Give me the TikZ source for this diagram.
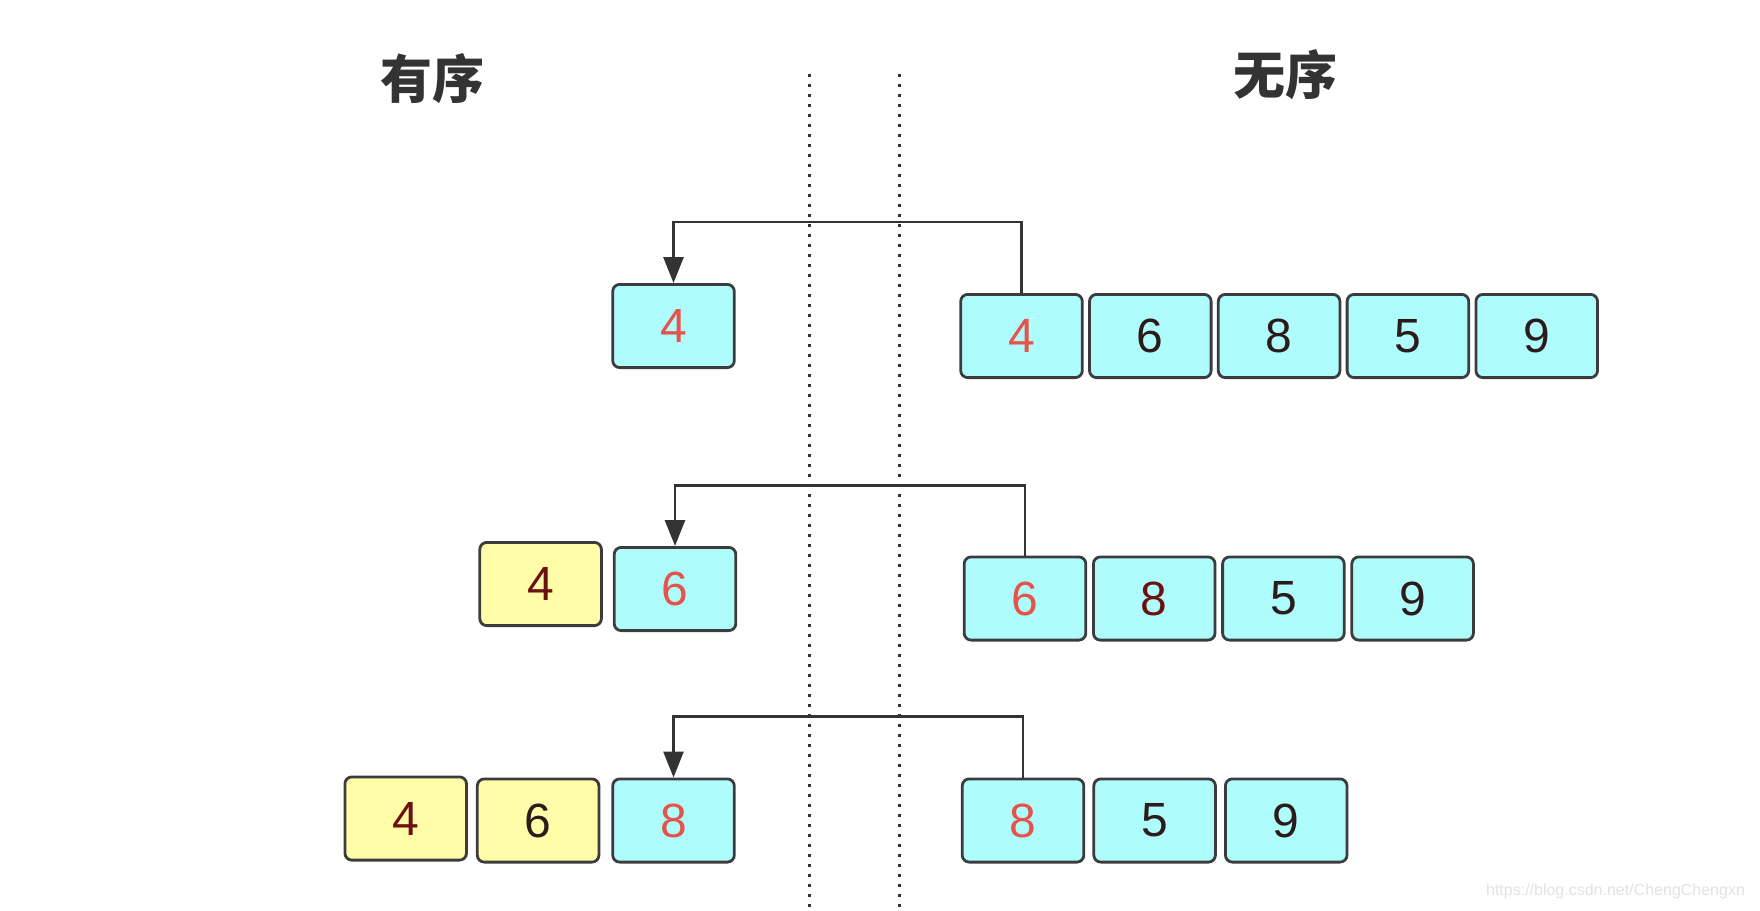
\documentclass[tikz,border=0pt]{standalone}
\usepackage{fontspec}
\setmainfont{Liberation Sans}
\newfontfamily\cjk{Noto Sans CJK SC}
\usepackage{xcolor}
\usepackage{tikz}
\usetikzlibrary{arrows.meta, positioning}
\definecolor{cellcyan}{HTML}{AFFCFC}
\definecolor{cellyellow}{HTML}{FFFDA8}
\definecolor{celledge}{HTML}{3C3C3C}
\definecolor{pickred}{HTML}{E5534B}
\definecolor{numdark}{HTML}{2B1B1B}
\definecolor{keptred}{HTML}{6E1010}
\definecolor{linedark}{HTML}{333333}
\definecolor{wmgray}{HTML}{E2E2E2}

\begin{document}
\begin{tikzpicture}[x=0.5pt, y=-0.5pt, >={Triangle[length=13pt,width=10pt]},
    font=\fontsize{24}{28}\selectfont,
    cellbox/.style={draw=celledge, line width=1.4pt, rounded corners=3.5pt, minimum width=60.8pt, minimum height=41.6pt, inner sep=0pt, text=numdark},
    unsortedbox/.style={cellbox, fill=cellcyan},
    sortedbox/.style={cellbox, fill=cellyellow},
    picked/.style={text=pickred},
    kept/.style={text=keptred},
    movearrow/.style={->, draw=linedark, line width=1.4pt},
    divider/.style={draw=linedark, line width=1.5pt, dash pattern=on 1.5pt off 3.5pt},
    heading/.style={font=\cjk\bfseries\fontsize{26}{30}\selectfont, text=linedark}]
    \useasboundingbox (0,0) rectangle (1760,910);

    % headings and the two dotted dividers
    \node[heading] (sortedtitle) at (432,79) {有序};
    \node[heading] (unsortedtitle) at (1285,75) {无序};
    \draw[divider] (809,74) -- (809,910);
    \draw[divider] (899,74) -- (899,910);

    % step 1
    \node[unsortedbox, picked] (o1) at (673.5,326) {4};
    \node[unsortedbox, picked] (u1a) at (1021.5,336) {4};
    \node[unsortedbox, right=2.2pt of u1a] (u1b) {6};
    \node[unsortedbox, right=2.2pt of u1b] (u1c) {8};
    \node[unsortedbox, right=2.2pt of u1c] (u1d) {5};
    \node[unsortedbox, right=2.2pt of u1d] (u1e) {9};
    \draw[movearrow] (u1a.north) -- ++(0,-71) -| (o1.north);

    % step 2
    \node[unsortedbox, picked] (o2b) at (675,589) {6};
    \node[sortedbox, kept, left=5pt of o2b, yshift=2.5pt] (o2a) {4};
    \node[unsortedbox, picked] (u2a) at (1025,598.5) {6};
    \node[unsortedbox, kept, right=2.4pt of u2a] (u2b) {8};
    \node[unsortedbox, right=2.4pt of u2b] (u2c) {5};
    \node[unsortedbox, right=2.4pt of u2c] (u2d) {9};
    \draw[movearrow] (u2a.north) -- ++(0,-70) -| (o2b.north);

    % step 3
    \node[unsortedbox, picked] (o3c) at (673.5,820.5) {8};
    \node[sortedbox, left=5.5pt of o3c] (o3b) {6};
    \node[sortedbox, kept, left=4pt of o3b, yshift=1pt] (o3a) {4};
    \node[unsortedbox, picked] (u3a) at (1023,820.5) {8};
    \node[unsortedbox, right=3.6pt of u3a] (u3b) {5};
    \node[unsortedbox, right=3.6pt of u3b] (u3c) {9};
    \draw[movearrow] (u3a.north) -- ++(0,-61) -| (o3c.north);

    \node[font=\fontsize{8}{10}\selectfont, text=wmgray, anchor=east] (mark) at (1752,891) {https://blog.csdn.net/ChengChengxn};
\end{tikzpicture}
\end{document}
